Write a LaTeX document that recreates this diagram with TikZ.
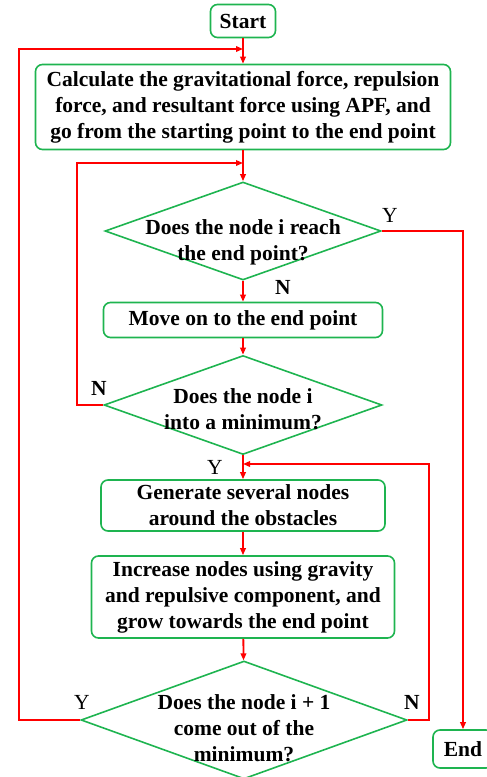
\documentclass[tikz,border=0pt]{standalone}
\usepackage{fontspec}
\setmainfont{Liberation Serif}
\usetikzlibrary{shapes.geometric,arrows.meta}
\definecolor{boxgreen}{RGB}{30,180,80}
\definecolor{flowred}{RGB}{255,0,0}
\tikzset{
    stepbox/.style={draw=boxgreen,line width=1.6pt,rounded corners=7pt,align=center,inner sep=0pt,
        font=\bfseries\fontsize{21.5}{26}\selectfont},
    decide/.style={draw=boxgreen,line width=1.6pt,shape=diamond,inner sep=0pt},
    qtext/.style={align=center,font=\bfseries\fontsize{21.5}{26}\selectfont},
    flow/.style={draw=flowred,line width=1.8pt,-{Triangle[length=7pt,width=5.5pt]}},
    yes/.style={font=\fontsize{21.5}{26}\selectfont},
    no/.style={font=\bfseries\fontsize{21.5}{26}\selectfont}
}

\begin{document}
\begin{tikzpicture}[x=1pt,y=-1pt]
    \useasboundingbox (0,0) rectangle (487,777);

    \node [stepbox,minimum width=65pt,minimum height=33pt] (start) at (243,21) {Start};
    \node [stepbox,minimum width=415pt,minimum height=85pt] (calc) at (243,107)
        {Calculate the gravitational force, repulsion\\force, and resultant force using APF, and\\go from the starting point to the end point};
    \node [decide,minimum width=276pt,minimum height=98pt,
        label={[qtext,yshift=-11pt]center:Does the node i reach\\the end point?}] (reach) at (243,231) {};
    \node [stepbox,minimum width=279pt,minimum height=35pt] (move) at (243,320) {Move on to the end point};
    \node [decide,minimum width=278pt,minimum height=99pt,
        label={[qtext,yshift=-4pt]center:Does the node i\\into a minimum?}] (minim) at (243,405) {};
    \node [stepbox,minimum width=284pt,minimum height=51pt] (gen) at (243,505.5)
        {Generate several nodes\\around the obstacles};
    \node [stepbox,minimum width=303pt,minimum height=82pt] (grow) at (243,597)
        {Increase nodes using gravity\\and repulsive component, and\\grow towards the end point};
    \node [decide,minimum width=326pt,minimum height=118pt,
        label={[qtext,yshift=-8pt]center:Does the node i + 1\\come out of the\\minimum?}] (out) at (244,720) {};
    \node [stepbox,minimum width=60pt,minimum height=38pt] (end) at (463,749) {End};

    \coordinate (j1) at (243,49);
    \coordinate (j2) at (243,163);
    \coordinate (j3) at (243,464);

    \draw [flow] (start) -- (calc);
    \draw [flow] (calc) -- (reach);
    \draw [flow] (reach) -- (move);
    \draw [flow] (move) -- (minim);
    \draw [flow] (minim) -- (gen);
    \draw [flow] (gen) -- (grow);
    \draw [flow] (grow) -- (out);
    \draw [flow] (reach.east) -| (end.north);
    \draw [flow] (minim.west) -- ++(-26,0) |- (j2);
    \draw [flow] (out.west) -- ++(-61,0) |- (j1);
    \draw [flow] (out.east) -- ++(21,0) |- (j3);

    \node [yes] (y1) at (390,215) {Y};
    \node [no] (n1) at (283,287) {N};
    \node [no] (n2) at (99,388) {N};
    \node [yes] (y2) at (215,467) {Y};
    \node [yes] (y3) at (82,702) {Y};
    \node [no] (n3) at (412,702) {N};
\end{tikzpicture}
\end{document}
